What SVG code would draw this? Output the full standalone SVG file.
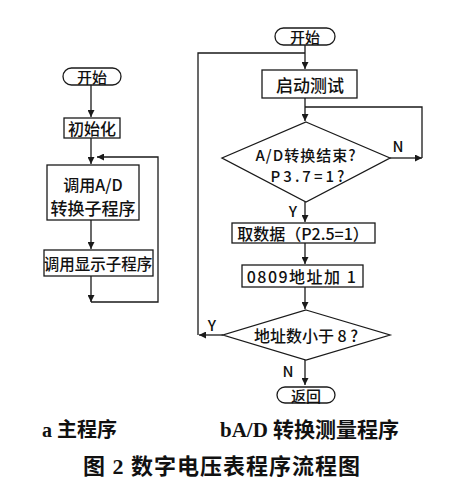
<svg xmlns="http://www.w3.org/2000/svg" width="461" height="495" viewBox="0 0 461 495">
<style>
.b{fill:#fff;stroke:#1a1a1a;stroke-width:1.3}
.l{fill:none;stroke:#1a1a1a;stroke-width:1.3}
.t{font-family:"Noto Sans CJK SC","Noto Sans",sans-serif;font-weight:500;fill:#111;text-anchor:middle;dominant-baseline:central}
.c{font-family:"Liberation Serif","Noto Sans CJK SC",serif;font-weight:bold;fill:#111}
</style>
<defs>
<marker id="a" viewBox="0 0 10 10" refX="10" refY="5" markerWidth="7" markerHeight="7" markerUnits="userSpaceOnUse" orient="auto"><path d="M0,0L10,5L0,10z" fill="#1a1a1a"/></marker>
</defs>
<rect width="461" height="495" fill="#fff"/>
<g id="connectors">
<path class="l" d="M91,85V117" marker-end="url(#a)"/>
<path class="l" d="M91,138V164" marker-end="url(#a)"/>
<path class="l" d="M91,220V249" marker-end="url(#a)"/>
<path class="l" d="M91,276V302" marker-end="url(#a)"/>
<path class="l" d="M91,302H158V157H97" marker-end="url(#a)"/>
<path class="l" d="M305,45V69" marker-end="url(#a)"/>
<path class="l" d="M198,335V53H305"/>
<path class="l" d="M305,98V121" marker-end="url(#a)"/>
<path class="l" d="M390,158H422" marker-end="url(#a)"/>
<path class="l" d="M422,158V107H305"/>
<path class="l" d="M305,202V222" marker-end="url(#a)"/>
<path class="l" d="M305,243V264" marker-end="url(#a)"/>
<path class="l" d="M305,287V309" marker-end="url(#a)"/>
<path class="l" d="M223,335H199" marker-end="url(#a)"/>
<path class="l" d="M305,360V385" marker-end="url(#a)"/>
<text class="t" x="398" y="145" font-size="15">N</text>
<text class="t" x="293" y="210" font-size="15">Y</text>
<text class="t" x="212" y="324" font-size="15">Y</text>
<text class="t" x="288" y="370" font-size="15">N</text>
</g>
<g id="start-a"><rect class="b" x="63" y="68" width="58" height="17" rx="8.5"/><text class="t" x="92" y="76.5" font-size="15">开始</text></g>
<g id="init"><rect class="b" x="64" y="118" width="56" height="20"/><text class="t" x="92" y="128" font-size="16">初始化</text></g>
<g id="call-ad"><rect class="b" x="47" y="165" width="92" height="55"/><text class="t" x="93" y="184" font-size="16">调用A/D</text><text class="t" x="93" y="207" font-size="17">转换子程序</text></g>
<g id="call-disp"><rect class="b" x="44" y="250" width="109" height="26"/><text class="t" x="98" y="263" font-size="15.5">调用显示子程序</text></g>
<g id="start-b"><rect class="b" x="275" y="28" width="60" height="17" rx="8.5"/><text class="t" x="305" y="36.5" font-size="15">开始</text></g>
<g id="start-test"><rect class="b" x="262" y="70" width="95" height="28"/><text class="t" x="310" y="84" font-size="17">启动测试</text></g>
<g id="ad-done"><path class="b" d="M306,122L390,158L306,202L222,158Z"/><text class="t" x="306" y="154" font-size="15" letter-spacing="1">A/D转换结束?</text><text class="t" x="309" y="175" font-size="15" letter-spacing="3">P3.7=1?</text></g>
<g id="get-data"><rect class="b" x="232" y="223" width="143" height="20"/><text class="t" x="303" y="233" font-size="16">取数据（P2.5=1）</text></g>
<g id="addr-inc"><rect class="b" x="242" y="265" width="121" height="22"/><text class="t" x="302" y="276" font-size="16" letter-spacing="1.5">0809地址加 1</text></g>
<g id="addr-cmp"><path class="b" d="M306,310L390,335L306,360L223,335Z"/><text class="t" x="306" y="335" font-size="16">地址数小于 8 ?</text></g>
<g id="return"><rect class="b" x="277" y="387" width="58" height="16" rx="8"/><text class="t" x="306" y="395" font-size="15">返回</text></g>
<g id="captions">
<text class="c" x="42" y="437" font-size="20">a 主程序</text>
<text class="c" x="220" y="437" font-size="21">bA/D 转换测量程序</text>
<text class="c" x="83" y="474" font-size="22" letter-spacing="1">图 2  数字电压表程序流程图</text>
</g>
</svg>
